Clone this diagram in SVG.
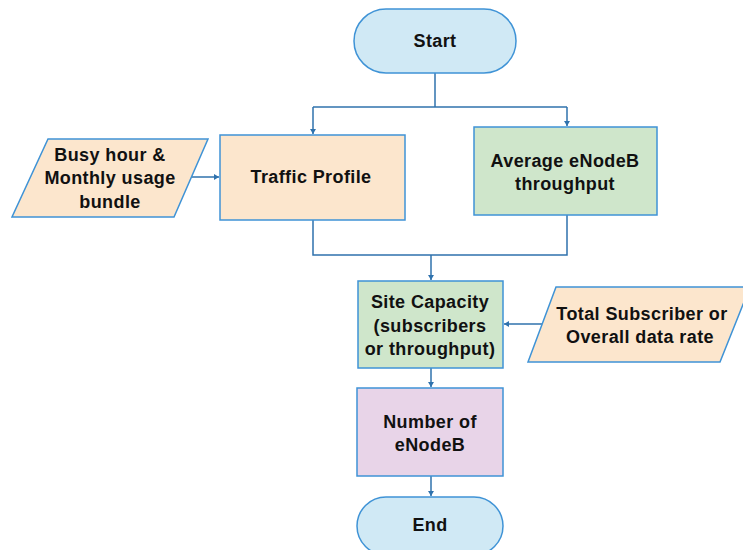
<svg xmlns="http://www.w3.org/2000/svg" width="743" height="550" viewBox="0 0 743 550">
<style>
text{font-family:"Liberation Sans",Arial,sans-serif;font-weight:bold;font-size:18px;letter-spacing:0.4px;fill:#111;text-anchor:middle;dominant-baseline:central}
.term{fill:#d0e9f5;stroke:#3f93d6;stroke-width:1.5}
.peach{fill:#fce6cd;stroke:#3f93d6;stroke-width:1.5}
.green{fill:#cfe6cb;stroke:#3f93d6;stroke-width:1.5}
.purple{fill:#e8d4e8;stroke:#3f93d6;stroke-width:1.5}
.conn{fill:none;stroke:#2f72ad;stroke-width:1.5}
</style>
<defs>
<marker id="ah" markerWidth="6" markerHeight="6" refX="5" refY="3" orient="auto" markerUnits="userSpaceOnUse">
<path d="M0,0 L5,3 L0,6 z" fill="#2f72ad"/>
</marker>
</defs>
<g id="connectors">
<path class="conn" d="M435,73 V107"/>
<path class="conn" d="M313,107 H567"/>
<path class="conn" d="M313,107 V134" marker-end="url(#ah)"/>
<path class="conn" d="M567,107 V126" marker-end="url(#ah)"/>
<path class="conn" d="M191,177 H219" marker-end="url(#ah)"/>
<path class="conn" d="M313,220 V255 H567 V215"/>
<path class="conn" d="M431,255 V280" marker-end="url(#ah)"/>
<path class="conn" d="M544,324 H504" marker-end="url(#ah)"/>
<path class="conn" d="M431,368 V387" marker-end="url(#ah)"/>
<path class="conn" d="M431,476 V496" marker-end="url(#ah)"/>
</g>
<g id="start">
<rect class="term" x="354" y="9" width="162" height="64" rx="32" ry="32"/>
<text x="435" y="41">Start</text>
</g>
<g id="busy">
<polygon class="peach" points="48,139 208,139 174,217 12,217"/>
<text x="110" y="155">Busy hour &amp;</text>
<text x="110" y="178">Monthly usage</text>
<text x="110" y="202">bundle</text>
</g>
<g id="traffic">
<rect class="peach" x="220" y="135" width="185" height="85"/>
<text x="311" y="177">Traffic Profile</text>
</g>
<g id="average">
<rect class="green" x="474" y="127" width="183" height="88"/>
<text x="565" y="161">Average eNodeB</text>
<text x="565" y="184">throughput</text>
</g>
<g id="site">
<rect class="green" x="358" y="281" width="145" height="87"/>
<text x="430" y="302">Site Capacity</text>
<text x="430" y="326">(subscribers</text>
<text x="430" y="349">or throughput)</text>
</g>
<g id="total">
<polygon class="peach" points="556,287 750,287 720,362 528,362"/>
<text x="642" y="314">Total Subscriber or</text>
<text x="640" y="337">Overall data rate</text>
</g>
<g id="number">
<rect class="purple" x="357" y="388" width="146" height="88"/>
<text x="430" y="422">Number of</text>
<text x="430" y="445">eNodeB</text>
</g>
<g id="end">
<rect class="term" x="357" y="497" width="146" height="58" rx="29" ry="29"/>
<text x="430" y="525">End</text>
</g>
</svg>
